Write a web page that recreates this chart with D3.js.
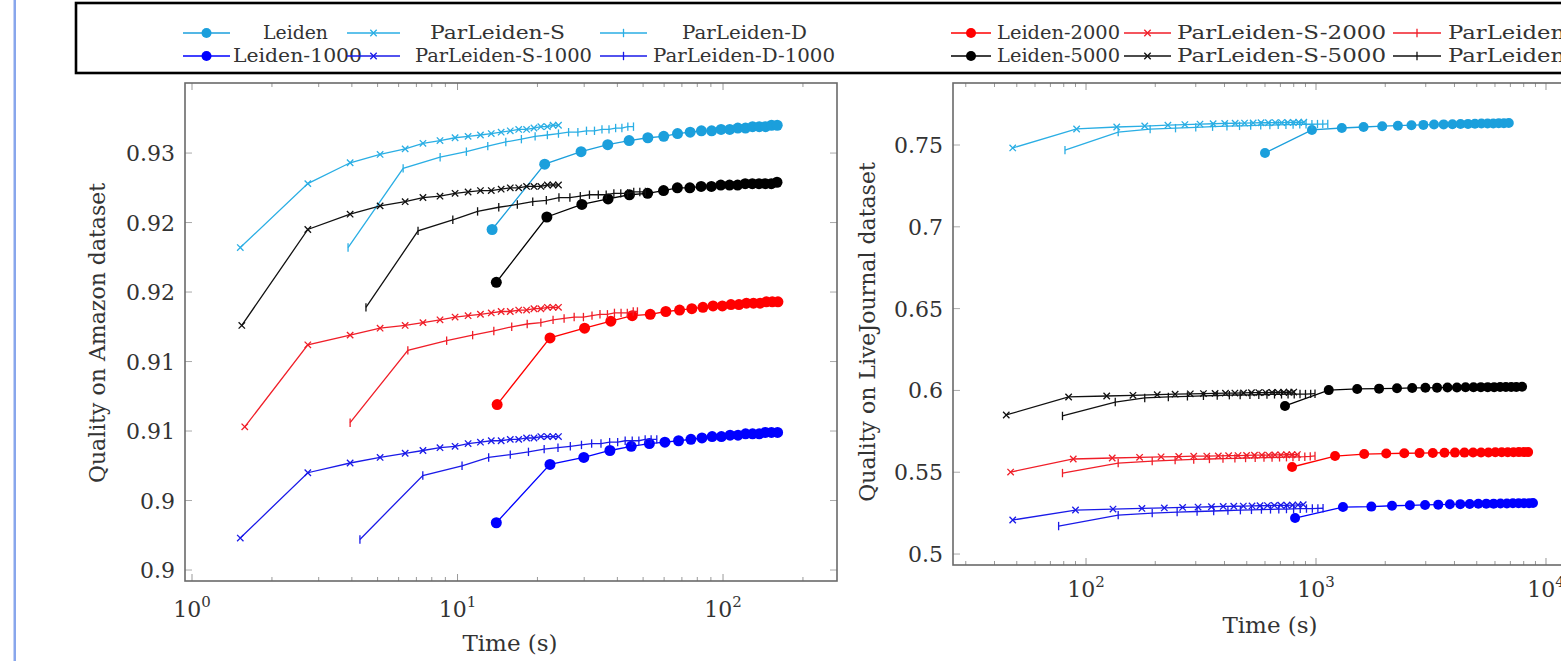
<!DOCTYPE html>
<html lang="en">
<head>
<meta charset="utf-8">
<title>Leiden vs ParLeiden quality</title>
<script src="https://d3js.org/d3.v7.min.js"></script>
<style>
    body { margin: 0; background: #fff; }
    svg text { font-family: "DejaVu Serif", "Liberation Serif", serif; fill: #333; }
</style>
</head>
<body>
<div id="main"></div>
<script>
// ---- Amazon dataset: [time (s), quality] ----
var amazonLeiden = [[13.5,0.9245],[21.3,0.9292],[29.2,0.9301],[36.8,0.9306],[44.3,0.9309],[52.1,0.9311],[59.8,0.9312],[67.4,0.9314],[75.2,0.9315],[82.9,0.9316],[90.6,0.9316],[98.3,0.9317],[106,0.9317],[113.7,0.9318],[121.5,0.9318],[129.2,0.9319],[136.9,0.9319],[144.6,0.9319],[152.3,0.9320],[160,0.9320]];
var amazonParS = [[1.52,0.9232],[2.73,0.9278],[3.94,0.9293],[5.11,0.9299],[6.35,0.9303],[7.41,0.9307],[8.59,0.9309],[9.79,0.9311],[10.96,0.9312],[12.2,0.9313],[13.4,0.9314],[14.6,0.9315],[15.8,0.9316],[17.0,0.9317],[18.2,0.9317],[19.4,0.9318],[20.6,0.9319],[21.8,0.9319],[22.9,0.9320],[24.0,0.9320]];
var amazonParD = [[3.87,0.9232],[6.24,0.9289],[8.6,0.9297],[10.8,0.9301],[13.0,0.9305],[15.2,0.9308],[17.4,0.9310],[19.6,0.9312],[21.8,0.9313],[24.0,0.9314],[26.2,0.9315],[28.4,0.9315],[30.6,0.9316],[32.8,0.9316],[35.0,0.9317],[37.2,0.9317],[39.4,0.9318],[41.6,0.9318],[43.8,0.9319],[46.0,0.9319]];
var amazonLeiden1000 = [[14.0,0.9034],[22.3,0.9076],[29.9,0.9081],[37.5,0.9086],[45.1,0.9089],[52.8,0.9091],[60.4,0.9092],[68.0,0.9093],[75.7,0.9094],[83.3,0.9095],[91.0,0.9096],[98.6,0.9096],[106.3,0.9097],[113.9,0.9097],[121.6,0.9098],[129.2,0.9098],[136.9,0.9098],[144.5,0.9099],[152.2,0.9099],[160.5,0.9099]];
var amazonParS1000 = [[1.52,0.9023],[2.73,0.9070],[3.94,0.9077],[5.11,0.9081],[6.35,0.9084],[7.41,0.9086],[8.59,0.9088],[9.79,0.9089],[10.96,0.9091],[12.2,0.9092],[13.4,0.9093],[14.6,0.9093],[15.8,0.9094],[17.0,0.9094],[18.2,0.9095],[19.4,0.9095],[20.6,0.9096],[21.8,0.9096],[22.9,0.9096],[24.0,0.9096]];
var amazonParD1000 = [[4.29,0.9022],[7.4,0.9068],[10.4,0.9075],[13.1,0.9081],[15.8,0.9083],[18.5,0.9085],[21.2,0.9087],[23.9,0.9088],[26.6,0.9089],[29.3,0.9090],[32.0,0.9091],[34.7,0.9091],[37.4,0.9092],[40.1,0.9092],[42.8,0.9093],[45.5,0.9093],[48.2,0.9093],[50.9,0.9094],[53.6,0.9094],[56.3,0.9094]];
var amazonLeiden2000 = [[14.1,0.9119],[22.3,0.9167],[30.1,0.9174],[37.8,0.9179],[45.5,0.9183],[53.2,0.9184],[60.9,0.9186],[68.6,0.9187],[76.3,0.9188],[84.0,0.9189],[91.7,0.9190],[99.4,0.9190],[107.1,0.9191],[114.8,0.9191],[122.5,0.9192],[130.2,0.9192],[137.9,0.9192],[145.6,0.9193],[153.3,0.9193],[161.0,0.9193]];
var amazonParS2000 = [[1.58,0.9103],[2.73,0.9162],[3.94,0.9169],[5.11,0.9174],[6.35,0.9176],[7.41,0.9178],[8.59,0.9180],[9.79,0.9182],[10.96,0.9183],[12.2,0.9184],[13.4,0.9185],[14.6,0.9186],[15.8,0.9186],[17.0,0.9187],[18.2,0.9187],[19.4,0.9188],[20.6,0.9188],[21.8,0.9189],[22.9,0.9189],[24.0,0.9189]];
var amazonParD2000 = [[3.94,0.9106],[6.5,0.9158],[9.1,0.9165],[11.4,0.9169],[13.7,0.9172],[16.0,0.9175],[18.3,0.9177],[20.6,0.9178],[22.9,0.9180],[25.2,0.9181],[27.5,0.9182],[29.8,0.9182],[32.1,0.9183],[34.4,0.9184],[36.7,0.9184],[39.0,0.9185],[41.3,0.9185],[43.6,0.9185],[45.9,0.9186],[47.6,0.9186]];
var amazonLeiden5000 = [[14.0,0.9207],[21.7,0.9254],[29.4,0.9263],[36.9,0.9267],[44.4,0.9270],[52.0,0.9271],[59.7,0.9273],[67.3,0.9275],[75.0,0.9275],[82.7,0.9276],[90.4,0.9276],[98.1,0.9277],[105.8,0.9277],[113.5,0.9277],[121.2,0.9278],[128.9,0.9278],[136.6,0.9278],[144.3,0.9278],[152.0,0.9278],[159.7,0.9279]];
var amazonParS5000 = [[1.54,0.9176],[2.73,0.9245],[3.94,0.9256],[5.11,0.9262],[6.35,0.9265],[7.41,0.9268],[8.59,0.9269],[9.79,0.9271],[10.96,0.9272],[12.2,0.9273],[13.4,0.9273],[14.6,0.9274],[15.8,0.9275],[17.0,0.9275],[18.2,0.9276],[19.4,0.9276],[20.6,0.9276],[21.8,0.9277],[22.9,0.9277],[24.0,0.9277]];
var amazonParD5000 = [[4.52,0.9189],[7.1,0.9244],[9.6,0.9252],[11.9,0.9258],[14.3,0.9261],[16.8,0.9263],[19.2,0.9265],[21.6,0.9266],[24.1,0.9268],[26.5,0.9268],[29.0,0.9269],[31.4,0.9270],[33.9,0.9270],[36.3,0.9270],[38.8,0.9271],[41.2,0.9271],[43.7,0.9271],[46.1,0.9272],[48.6,0.9272],[51.0,0.9272]];

// ---- LiveJournal dataset: [time (s), quality] ----
var ljLeiden = [[600,0.7451],[960,0.7592],[1295,0.7604],[1610,0.7610],[1940,0.7615],[2270,0.7618],[2600,0.7621],[2930,0.7623],[3260,0.7625],[3590,0.7626],[3920,0.7627],[4250,0.7628],[4580,0.7629],[4910,0.7630],[5240,0.7631],[5570,0.7631],[5900,0.7632],[6230,0.7633],[6560,0.7633],[6890,0.7634]];
var ljParS = [[48,0.7482],[91,0.7598],[136,0.7610],[180,0.7616],[227,0.7621],[269,0.7625],[313,0.7628],[357,0.7630],[401,0.7632],[445,0.7633],[489,0.7634],[533,0.7635],[577,0.7636],[621,0.7636],[665,0.7637],[709,0.7637],[753,0.7638],[797,0.7638],[841,0.7639],[885,0.7639]];
var ljParD = [[81,0.7469],[138,0.7579],[190,0.7597],[245,0.7603],[300,0.7608],[355,0.7612],[410,0.7615],[465,0.7617],[520,0.7619],[575,0.7621],[630,0.7622],[685,0.7623],[740,0.7624],[795,0.7625],[850,0.7626],[905,0.7627],[960,0.7627],[1015,0.7628],[1070,0.7628],[1125,0.7629]];
var ljLeiden1000 = [[811,0.5220],[1310,0.5287],[1740,0.5290],[2140,0.5295],[2560,0.5298],[2980,0.5300],[3400,0.5302],[3820,0.5304],[4240,0.5305],[4660,0.5306],[5080,0.5307],[5500,0.5308],[5920,0.5308],[6340,0.5309],[6760,0.5309],[7180,0.5310],[7600,0.5310],[8020,0.5311],[8440,0.5311],[8780,0.5312]];
var ljParS1000 = [[48,0.5208],[90,0.5269],[131,0.5275],[175,0.5279],[219,0.5282],[263,0.5285],[307,0.5287],[351,0.5289],[395,0.5291],[439,0.5292],[483,0.5293],[527,0.5294],[571,0.5295],[615,0.5296],[659,0.5297],[703,0.5298],[747,0.5298],[791,0.5299],[835,0.5300],[880,0.5302]];
var ljParD1000 = [[76,0.5171],[138,0.5238],[194,0.5250],[249,0.5256],[304,0.5260],[359,0.5263],[414,0.5266],[469,0.5268],[524,0.5270],[579,0.5272],[634,0.5273],[689,0.5274],[744,0.5275],[799,0.5276],[854,0.5277],[909,0.5278],[964,0.5278],[1019,0.5279],[1073,0.5280]];
var ljLeiden2000 = [[787,0.5532],[1210,0.5599],[1620,0.5611],[2020,0.5614],[2420,0.5616],[2820,0.5617],[3220,0.5618],[3620,0.5619],[4020,0.5620],[4420,0.5620],[4820,0.5621],[5220,0.5621],[5620,0.5621],[6020,0.5622],[6420,0.5622],[6820,0.5622],[7220,0.5622],[7620,0.5623],[8020,0.5623],[8360,0.5623]];
var ljParS2000 = [[47,0.5501],[88,0.5581],[130,0.5587],[171,0.5591],[212,0.5594],[253,0.5596],[294,0.5598],[335,0.5599],[376,0.5600],[417,0.5601],[458,0.5602],[499,0.5603],[540,0.5604],[581,0.5605],[622,0.5605],[663,0.5606],[704,0.5606],[745,0.5607],[786,0.5607],[830,0.5608]];
var ljParD2000 = [[79,0.5495],[138,0.5556],[194,0.5568],[244,0.5574],[294,0.5578],[344,0.5581],[394,0.5583],[444,0.5585],[494,0.5587],[544,0.5588],[594,0.5589],[644,0.5590],[694,0.5591],[744,0.5592],[794,0.5593],[844,0.5594],[894,0.5595],[944,0.5597],[990,0.5600]];
var ljLeiden5000 = [[733,0.5905],[1136,0.6002],[1510,0.6009],[1880,0.6011],[2250,0.6013],[2620,0.6015],[2990,0.6016],[3360,0.6017],[3730,0.6018],[4100,0.6018],[4470,0.6019],[4840,0.6019],[5210,0.6020],[5580,0.6020],[5950,0.6020],[6320,0.6021],[6690,0.6021],[7060,0.6021],[7430,0.6021],[7870,0.6022]];
var ljParS5000 = [[45,0.5850],[84,0.5960],[123,0.5966],[160,0.5970],[204,0.5974],[244,0.5977],[284,0.5979],[324,0.5981],[364,0.5982],[404,0.5983],[444,0.5984],[484,0.5985],[524,0.5986],[564,0.5987],[604,0.5987],[644,0.5988],[684,0.5988],[724,0.5989],[764,0.5989],[800,0.5990]];
var ljParD5000 = [[79,0.5844],[134,0.5929],[180,0.5954],[228,0.5960],[276,0.5964],[324,0.5967],[372,0.5969],[420,0.5971],[468,0.5972],[516,0.5973],[564,0.5974],[612,0.5975],[660,0.5976],[708,0.5976],[756,0.5977],[804,0.5977],[852,0.5978],[900,0.5978],[948,0.5979],[990,0.5980]];

// ---- labels ----
var legendLabels = ["Leiden", "ParLeiden-S", "ParLeiden-D", "Leiden-2000", "ParLeiden-S-2000", "ParLeiden-D-2000",
                    "Leiden-1000", "ParLeiden-S-1000", "ParLeiden-D-1000", "Leiden-5000", "ParLeiden-S-5000", "ParLeiden-D-5000"];
var amazonYTicks = [0.93, 0.925, 0.92, 0.915, 0.91, 0.905, 0.9];
var amazonYLabels = ["0.93", "0.92", "0.92", "0.91", "0.91", "0.9", "0.9"];
var ljYTicks = [0.75, 0.7, 0.65, 0.6, 0.55, 0.5];
var ljYLabels = ["0.75", "0.7", "0.65", "0.6", "0.55", "0.5"];
var amazonXTicks = [1, 10, 100];
var ljXTicks = [100, 1000, 10000];

var width = 1561, height = 661;

var svg = d3.select("div#main")
            .append("svg")
            .attr("width", width)
            .attr("height", height);

// group colours: base, 1000, 2000, 5000
var groupColor = {
    base: { dot: "#1b9fdc", line: "#2aaee4" },
    k1000: { dot: "#0000ff", line: "#1a1ae8" },
    k2000: { dot: "#ff0000", line: "#f01e28" },
    k5000: { dot: "#000000", line: "#111111" }
};

function seriesList(d) {
    return [
        { data: d[0], group: "base", mark: "circle" }, { data: d[1], group: "base", mark: "x" }, { data: d[2], group: "base", mark: "bar" },
        { data: d[3], group: "k1000", mark: "circle" }, { data: d[4], group: "k1000", mark: "x" }, { data: d[5], group: "k1000", mark: "bar" },
        { data: d[6], group: "k2000", mark: "circle" }, { data: d[7], group: "k2000", mark: "x" }, { data: d[8], group: "k2000", mark: "bar" },
        { data: d[9], group: "k5000", mark: "circle" }, { data: d[10], group: "k5000", mark: "x" }, { data: d[11], group: "k5000", mark: "bar" }
    ];
}

function drawMark(g, mark, cx, cy, col, r) {
    if (mark == "circle") {
        g.append("circle").attr("cx", cx).attr("cy", cy).attr("r", r).attr("fill", col.dot);
    } else if (mark == "x") {
        var s = 3.2;
        g.append("path")
         .attr("d", "M" + (cx - s) + "," + (cy - s) + "L" + (cx + s) + "," + (cy + s) + "M" + (cx - s) + "," + (cy + s) + "L" + (cx + s) + "," + (cy - s))
         .attr("stroke", col.line).attr("stroke-width", 1.3);
    } else {
        g.append("line").attr("x1", cx).attr("x2", cx).attr("y1", cy - 4.2).attr("y2", cy + 4.2)
         .attr("stroke", col.line).attr("stroke-width", 1.3);
    }
}

function powLabel(g, x, y, t) {
    var txt = g.append("text").attr("x", x).attr("y", y).attr("text-anchor", "middle").style("font-size", "22px");
    txt.append("tspan").text("10");
    txt.append("tspan").attr("dy", -10).style("font-size", "15px").text(Math.round(Math.log10(t)));
}

function drawPanel(p) {
    var x = d3.scaleLog().domain(p.xDomain).range([p.left, p.right]);
    var y = d3.scaleLinear().domain(p.yDomain).range([p.bottom, p.top]);
    var g = svg.append("g");

    // log ticks top and bottom
    x.ticks().forEach(function(t) {
        var major = Math.abs(Math.log10(t) - Math.round(Math.log10(t))) < 1e-9;
        var len = major ? 7 : 4;
        g.append("line").attr("x1", x(t)).attr("x2", x(t)).attr("y1", p.bottom).attr("y2", p.bottom - len).attr("stroke", "#999");
        g.append("line").attr("x1", x(t)).attr("x2", x(t)).attr("y1", p.top).attr("y2", p.top + len).attr("stroke", "#999");
    });
    p.xTicks.forEach(function(t) { powLabel(g, x(t), p.xLabelY, t); });

    p.yTicks.forEach(function(v, i) {
        g.append("line").attr("x1", p.left).attr("x2", p.left + 7).attr("y1", y(v)).attr("y2", y(v)).attr("stroke", "#aaa");
        g.append("line").attr("x1", p.right).attr("x2", p.right - 7).attr("y1", y(v)).attr("y2", y(v)).attr("stroke", "#aaa");
        g.append("text").attr("x", p.left - 10).attr("y", y(v) + 8).attr("text-anchor", "end")
         .style("font-size", "22px").text(p.yLabels[i]);
    });

    g.append("rect").attr("x", p.left).attr("y", p.top).attr("width", p.right - p.left).attr("height", p.bottom - p.top)
     .attr("fill", "none").attr("stroke", "#6a6a6a").attr("stroke-width", 1.6);

    var line = d3.line().x(function(d) { return x(d[0]); }).y(function(d) { return y(d[1]); });
    p.series.forEach(function(s) {
        var col = groupColor[s.group];
        g.append("path").datum(s.data).attr("d", line).attr("fill", "none")
         .attr("stroke", s.mark == "circle" ? col.dot : col.line).attr("stroke-width", 1.3);
        s.data.forEach(function(d) { drawMark(g, s.mark, x(d[0]), y(d[1]), col, p.dotR); });
    });

    g.append("text").attr("x", p.xTitleX).attr("y", p.xTitleY).attr("text-anchor", "middle")
     .style("font-size", "23px").text("Time (s)");
    g.append("text").attr("transform", "translate(" + p.yTitleX + "," + p.yTitleY + ") rotate(-90)")
     .attr("text-anchor", "middle").style("font-size", "22px").text(p.yTitle);
}

drawPanel({
    left: 185, right: 837, top: 83, bottom: 581,
    xDomain: [0.941, 268.7], yDomain: [0.89921, 0.93504],
    xTicks: amazonXTicks, xLabelY: 617, yTicks: amazonYTicks, yLabels: amazonYLabels,
    xTitleX: 510, xTitleY: 651, yTitleX: 105, yTitleY: 333, dotR: 5.5,
    yTitle: "Quality on Amazon dataset",
    series: seriesList([amazonLeiden, amazonParS, amazonParD, amazonLeiden1000, amazonParS1000, amazonParD1000,
                        amazonLeiden2000, amazonParS2000, amazonParD2000, amazonLeiden5000, amazonParS5000, amazonParD5000])
});

drawPanel({
    left: 953, right: 1575, top: 83, bottom: 565,
    xDomain: [26.4, 13370], yDomain: [0.4933, 0.7879],
    xTicks: ljXTicks, xLabelY: 597, yTicks: ljYTicks, yLabels: ljYLabels,
    xTitleX: 1270, xTitleY: 633, yTitleX: 875, yTitleY: 332, dotR: 5,
    yTitle: "Quality on LiveJournal dataset",
    series: seriesList([ljLeiden, ljParS, ljParD, ljLeiden1000, ljParS1000, ljParD1000,
                        ljLeiden2000, ljParS2000, ljParD2000, ljLeiden5000, ljParS5000, ljParD5000])
});

// legend box across the top
var leg = svg.append("g");
leg.append("rect").attr("x", 76).attr("y", 3).attr("width", 1520).attr("height", 70)
   .attr("fill", "#fff").attr("stroke", "#000").attr("stroke-width", 2.6);

var legGroups = ["base", "k2000", "k1000", "k5000"];
var legMarks = ["circle", "x", "bar"];
var legMarkX = [[183, 230], [347, 400], [600, 647], [951, 991], [1124, 1171], [1393, 1441]];
var legTextRow = [
    [[263, 65], [430, 135], [682, 125], [997, 123], [1177, 209], [1448, 209]],
    [[233, 129], [415, 177], [653, 182], [997, 123], [1177, 209], [1448, 209]]
];
var legRowY = [33, 56];

legendLabels.forEach(function(name, i) {
    var row = Math.floor(i / 6), c = i % 6;
    var grp = legGroups[row * 2 + (c < 3 ? 0 : 1)];
    var col = groupColor[grp], mark = legMarks[c % 3];
    var ly = legRowY[row];
    leg.append("line").attr("x1", legMarkX[c][0]).attr("x2", legMarkX[c][1]).attr("y1", ly).attr("y2", ly)
       .attr("stroke", mark == "circle" ? col.dot : col.line).attr("stroke-width", 1.5);
    drawMark(leg, mark, (legMarkX[c][0] + legMarkX[c][1]) / 2, ly, col, 5);
    leg.append("text").attr("x", legTextRow[row][c][0]).attr("y", ly + 6)
       .attr("textLength", legTextRow[row][c][1]).attr("lengthAdjust", "spacingAndGlyphs")
       .style("font-size", "19px").text(name);
});

// thin blue page margin at the far left
svg.append("rect").attr("x", 13.5).attr("y", 0).attr("width", 2.5).attr("height", height).attr("fill", "#88a6ec");
</script>
</body>
</html>
